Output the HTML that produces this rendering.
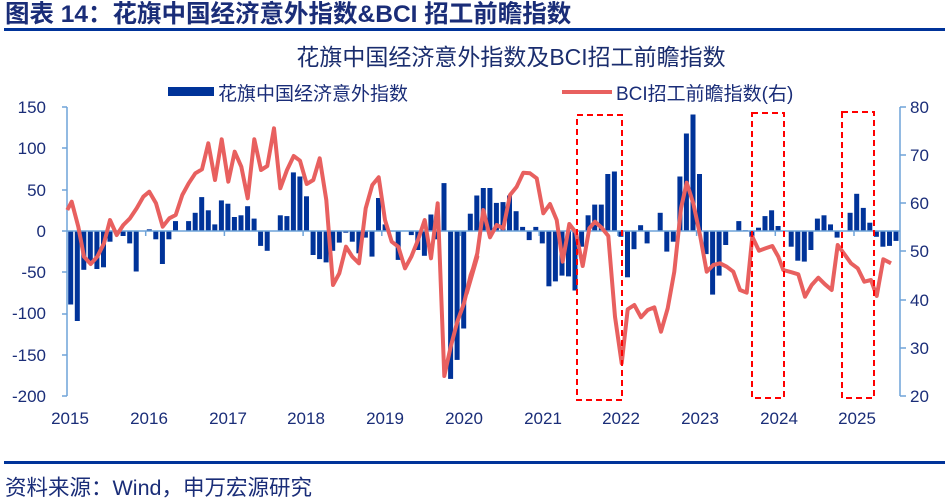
<!DOCTYPE html>
<html><head><meta charset="utf-8"><style>
body{margin:0;background:#fff;width:945px;height:498px;overflow:hidden;font-family:"Liberation Sans","Noto Sans CJK SC",sans-serif}
</style></head><body>
<svg id="s" width="945" height="498" xmlns="http://www.w3.org/2000/svg" font-family="Liberation Sans, Noto Sans CJK SC, sans-serif">
<text x="5" y="22" font-size="24.5" font-weight="bold" fill="#1a2d78">图表 14：花旗中国经济意外指数&amp;BCI 招工前瞻指数</text>
<rect x="4" y="28" width="941" height="3" fill="#003399"/>
<text x="511" y="65" font-size="23" fill="#1a2d6e" text-anchor="middle">花旗中国经济意外指数及BCI招工前瞻指数</text>
<rect x="168" y="87" width="46" height="9" fill="#003399"/>
<text x="218" y="100" font-size="19" fill="#1a2d78">花旗中国经济意外指数</text>
<line x1="562" y1="92" x2="612" y2="92" stroke="#e8605f" stroke-width="4"/>
<text x="616" y="100" font-size="19" fill="#1a2d78">BCI招工前瞻指数(右)</text>
<g id="bars" fill="#003399"></g>
<g stroke="#6fa3d8" stroke-width="1.5" fill="none">
<line x1="67" y1="107" x2="67" y2="396"/>
<line x1="67" y1="231" x2="900" y2="231"/>
<line x1="900" y1="107" x2="900" y2="396"/>
<g id="ticks"></g>
</g>
<g font-size="17" fill="#1a2d78" text-anchor="end">
<text x="46" y="113">150</text><text x="46" y="154">100</text><text x="46" y="196">50</text><text x="46" y="237">0</text>
<text x="46" y="278">-50</text><text x="46" y="319">-100</text><text x="46" y="361">-150</text><text x="46" y="402">-200</text>
</g>
<g font-size="17" fill="#1a2d78">
<text x="910" y="113">80</text><text x="910" y="161">70</text><text x="910" y="209">60</text><text x="910" y="257">50</text>
<text x="910" y="306">40</text><text x="910" y="354">30</text><text x="910" y="402">20</text>
</g>
<g font-size="17" fill="#1a2d78" text-anchor="middle">
<text x="70" y="424">2015</text><text x="149" y="424">2016</text><text x="228" y="424">2017</text><text x="306" y="424">2018</text>
<text x="385" y="424">2019</text><text x="464" y="424">2020</text><text x="543" y="424">2021</text><text x="621" y="424">2022</text>
<text x="700" y="424">2023</text><text x="779" y="424">2024</text><text x="857" y="424">2025</text>
</g>
<polyline id="ln" fill="none" stroke="#e8605f" stroke-width="4" stroke-linejoin="round"/>
<g fill="none" stroke="#ff0000" stroke-width="2" stroke-dasharray="6,4">
<rect x="577" y="115" width="45" height="285"/>
<rect x="752" y="113" width="32" height="285"/>
<rect x="842" y="112" width="32" height="286"/>
</g>
<rect x="4" y="461" width="941" height="3" fill="#003399"/>
<text x="5" y="495" font-size="21.5" fill="#1a2d78">资料来源：Wind，申万宏源研究</text>
</svg>
<script>
var v=[-89,-109,-47,-40,-46,-44,-13,0,-6,-15,-49,0,2,-10,-40,-10,12,0,12,22,41,25,8,37,33,17,19,30,15,-18,-24,0,19,18,71,66,42,-29,-34,-38,-24,-14,-2,-13,-27,-8,-31,40,8,0,-35,0,-5,-23,-30,20,-10,58,-179,-156,-118,21,43,52,52,34,35,43,24,5,-11,5,-15,-67,-61,-54,-55,-72,-19,19,32,32,69,72,-7,-56,-22,7,-15,0,22,-25,-13,66,118,141,69,-28,-77,-54,-17,0,12,1,-7,4,18,25,6,0,-19,-36,-37,-23,15,19,8,-8,0,22,45,28,10,-7,-19,-18,-12];
var g=document.getElementById('bars'),h='';
for(var k=0;k<v.length;k++){var x=70.7+6.55*k-2.5,y0=231,hh=v[k]*41.3/50;if(!v[k])continue;
h+='<rect x="'+x.toFixed(1)+'" y="'+(hh>0?y0-hh:y0).toFixed(1)+'" width="5" height="'+Math.abs(hh).toFixed(1)+'"/>';}
g.innerHTML=h;
var t='';[107,148,190,231,272,314,355,396].forEach(function(y){t+='<line x1="62" y1="'+y+'" x2="67" y2="'+y+'"/>';});
[107,155,203,251,300,348,396].forEach(function(y){t+='<line x1="900" y1="'+y+'" x2="906" y2="'+y+'"/>';});
for(var i=1;i<11;i++){var x=67+78.7*i;t+='<line x1="'+x+'" y1="231" x2="'+x+'" y2="236"/>';}
document.getElementById('ticks').innerHTML=t;
var a=[[22,330],[35,305],[55,380],[72,470],[92,492],[112,470],[132,430],[150,360],[170,405],[190,375],[210,355],[230,325],[250,290],[268,275],[288,310],[308,380],[328,355],[347,345],[367,285],[386,250],[406,220],[426,208],[445,130],[465,240],[485,118],[505,245],[524,155],[544,200],[563,295],[583,118],[603,210],[622,198],[642,85],[661,265],[681,210],[701,168],[720,182],[740,252],[760,240],[779,175],[799,300],[819,555],[838,520],[858,440],[877,470],[897,490],[917,325],[937,255],[956,232],[975,360],[995,425],[1015,440],[1035,505],[1054,470],[1074,420],[1094,360],[1113,475],[1133,310],[1153,828],[1172,740],[1192,665],[1212,610],[1232,525],[1252,470]];
var b=[[20,580],[35,520],[52,460],[70,330],[90,412],[110,375],[130,385],[150,285],[170,260],[190,218],[210,220],[230,235],[250,340],[270,312],[290,360],[308,485],[328,372],[348,398],[368,498],[388,385],[405,365],[425,383],[445,408],[465,650],[485,790],[503,628],[523,615],[543,652],[563,630],[583,622],[603,695],[623,625],[643,515],[663,325],[680,248],[700,310],[720,405],[740,515],[760,495],[780,490],[800,500],[820,515],[840,570],[860,578],[877,410],[897,452],[917,445],[937,438],[955,470],[970,510],[995,517],[1015,523],[1035,590],[1055,555],[1075,533],[1095,553],[1115,570],[1133,435],[1153,462],[1173,490],[1193,505],[1213,545],[1233,540],[1250,588],[1270,478],[1293,490]];
var p=a.map(function(q){return (60+q[0]/3).toFixed(1)+','+(100+q[1]/3).toFixed(1)}).concat(b.map(function(q){return (460+q[0]/3).toFixed(1)+','+(100+q[1]/3).toFixed(1)}));
document.getElementById('ln').setAttribute('points',p.join(' '));
</script>
</body></html>
